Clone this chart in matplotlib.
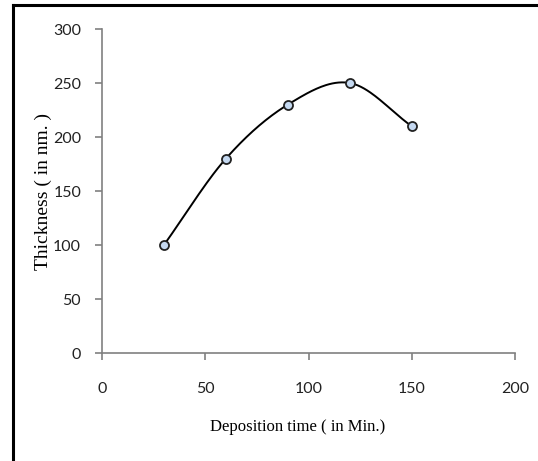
import numpy as np
import matplotlib
matplotlib.use("Agg")
import matplotlib.pyplot as plt
from matplotlib.lines import Line2D

time_min = [30, 60, 90, 120, 150]
thickness_nm = [100, 180, 230, 250, 210]
x_ticks = [0, 50, 100, 150, 200]
y_ticks = [0, 50, 100, 150, 200, 250, 300]


def catmull_rom(xs, ys, n=40):
    P = np.column_stack([xs, ys]).astype(float)
    P = np.vstack([2 * P[0] - P[1], P, 2 * P[-1] - P[-2]])
    out = []
    t = np.linspace(0, 1, n)
    for i in range(1, len(P) - 2):
        p0, p1, p2, p3 = P[i - 1], P[i], P[i + 1], P[i + 2]
        seg = 0.5 * ((2 * p1)[None, :]
                     + np.outer(t, (-p0 + p2))
                     + np.outer(t ** 2, (2 * p0 - 5 * p1 + 4 * p2 - p3))
                     + np.outer(t ** 3, (-p0 + 3 * p1 - 3 * p2 + p3)))
        out.append(seg if i == 1 else seg[1:])
    out = np.vstack(out)
    return out[:, 0], out[:, 1]


fig = plt.figure(figsize=(5.38, 4.61), dpi=100)
ax = fig.add_axes([102 / 538, 1 - 353 / 461, (515 - 102) / 538, (353 - 29) / 461])

sx, sy = catmull_rom(time_min, thickness_nm)
ax.plot(sx, sy, color="black", lw=1.4, zorder=2)
ax.plot(time_min, thickness_nm, ls="none", marker="o", ms=6.5,
        mfc="#c5d9f1", mec="#222222", mew=1.3, zorder=3)

ax.set_xlim(0, 200)
ax.set_ylim(0, 300)
ax.set_xticks(x_ticks)
ax.set_yticks(y_ticks)

for s in ["top", "right"]:
    ax.spines[s].set_visible(False)
for s in ["left", "bottom"]:
    ax.spines[s].set_color("#808080")
    ax.spines[s].set_linewidth(1.2)

tick_font = ["Lato", "DejaVu Sans"]
ax.tick_params(axis="x", direction="out", length=5, width=1.2, color="#808080",
               pad=16, labelsize=11.5, labelcolor="#222222")
ax.tick_params(axis="y", direction="out", length=5, width=1.2, color="#808080",
               pad=10, labelsize=11.5, labelcolor="#222222")
for lab in ax.get_xticklabels() + ax.get_yticklabels():
    lab.set_fontfamily(tick_font)

fig.text(298 / 538, 1 - 427 / 461, "Deposition time ( in Min.)",
         family=["Liberation Serif"], fontsize=12, ha="center", va="center")
fig.text(43 / 538, 1 - 191 / 461, "Thickness ( in nm. )",
         family=["Liberation Serif"], fontsize=14, ha="center", va="center",
         rotation=90)

# figure border (top and left)
fig.add_artist(Line2D([13 / 538, 1], [1 - 5 / 461, 1 - 5 / 461],
                      transform=fig.transFigure, color="black", lw=2.2))
fig.add_artist(Line2D([13 / 538, 13 / 538], [0, 1 - 5 / 461],
                      transform=fig.transFigure, color="black", lw=2.2))

fig.savefig("out.png", dpi=100, facecolor="white")
